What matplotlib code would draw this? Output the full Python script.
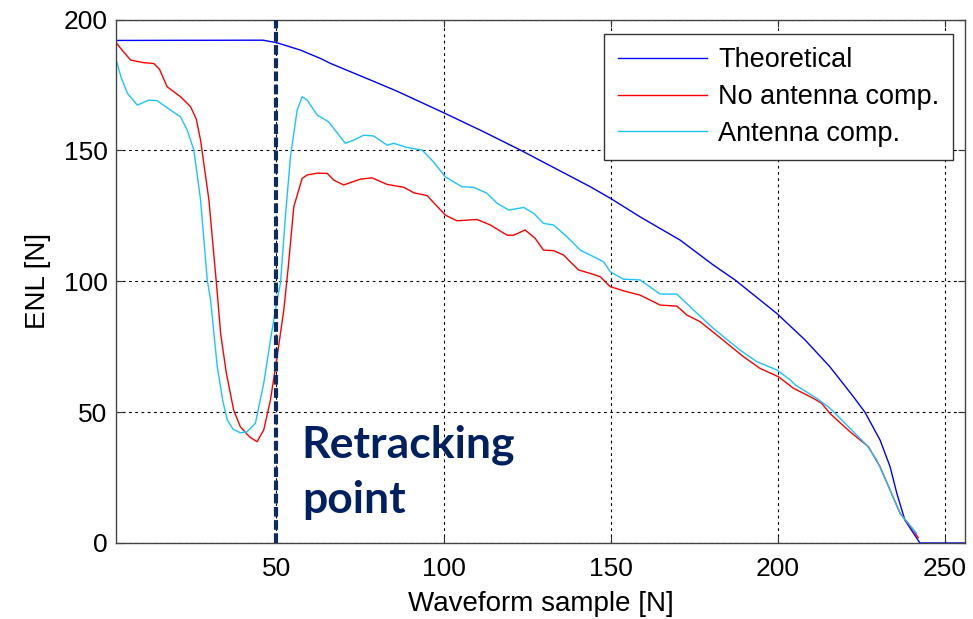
import numpy as np
import matplotlib
matplotlib.use("Agg")
import matplotlib.pyplot as plt

plt.rcParams['font.family'] = ['Liberation Sans', 'DejaVu Sans']
plt.rcParams['lines.scale_dashes'] = False

# theoretical ENL
theo_x = [2, 46, 50.2, 57.2, 63.2, 66.2, 78.1, 86.1, 100.5, 112, 123, 143.9, 149.9,
          158.8, 170.8, 180.7, 187.2, 199.7, 208.2, 215.6, 222.6, 226.1, 230.6,
          233.6, 235.6, 238, 242.5, 256]
theo_y = [192, 192.1, 191.1, 188.3, 185.1, 183.2, 176.9, 172.6, 164.1, 157.1, 150.1,
          136.1, 131.7, 124.6, 115.7, 106.2, 100.5, 87.7, 77.5, 67.3, 55.9, 49.9,
          39.3, 29.1, 19, 8.8, 0, 0]

# no antenna compensation
noant_x = [2.2, 4, 6.4, 10.3, 13.3, 15, 17.3, 21.3, 24.3, 26, 27.3, 29.8, 32.3, 33.3,
           35, 37.2, 39.2, 42, 44.2, 46.2, 48.2, 50.2, 52.2, 53.5, 55.2, 57.7, 59.2,
           62.2, 65.2, 67.1, 70.1, 75.1, 78.6, 83.1, 88.1, 91.1, 95.1, 100.5, 104,
           110, 114, 119, 121, 124.4, 127.4, 129.9, 132.9, 135.9, 140.4, 143.9,
           146.9, 149.9, 154.8, 158.8, 164.8, 169.8, 172.8, 176.8, 181.7, 189.7,
           194.7, 200.2, 204.7, 210.6, 213.1, 215.6, 221.6, 227.1, 230.6, 233.6,
           236.6, 240.5, 242]
noant_y = [190.9, 188, 184.5, 183.5, 183.2, 181, 174.3, 170.5, 166.7, 162, 153.9, 131,
           95.5, 80, 65, 50.8, 44.4, 40.5, 38.7, 43.2, 54.6, 71.2, 89, 105, 128.5,
           139.3, 140.6, 141.3, 141.2, 138.7, 136.8, 139, 139.5, 137, 135.9, 133.8,
           132.7, 125.3, 123.1, 123.6, 121.5, 117.6, 117.6, 119.6, 116.4, 111.9,
           111.7, 110, 104.3, 103, 101.7, 97.9, 96, 94.7, 90.9, 90.5, 87.1, 84.5,
           79.5, 71.2, 66.7, 63.5, 59.1, 55.3, 53.4, 49.5, 42.5, 36.8, 29.1, 20.2,
           11.3, 5, 2]

# antenna compensation
ant_x = [2.2, 3.5, 5.4, 8.4, 11.8, 14.3, 18.3, 21.3, 23.3, 25.3, 27.3, 29.3, 30.3,
         32.3, 34, 35.3, 37, 39.2, 41.2, 43.7, 46.2, 48.2, 50.2, 51.2, 52.7, 54.2,
         56.2, 57.7, 59.2, 62.2, 65.6, 70.6, 73.1, 76.1, 79.1, 83.1, 85.1, 89.1,
         93.6, 97, 100.5, 105.5, 109, 113, 116, 119.5, 124, 127, 129.9, 132.9,
         136.9, 140.9, 143.9, 147.9, 149.9, 153.8, 158.8, 164.8, 169.8, 174.8,
         180.7, 188.7, 193.7, 199.7, 203.7, 205.2, 211.6, 215.6, 220.6, 226.6,
         229.6, 233.6, 236.6, 241.5]
ant_y = [183.9, 178, 171.8, 167.3, 169.2, 169, 165.4, 162.8, 157.8, 150.1, 131, 100.5,
         92.8, 67.3, 54, 47, 43.5, 42.1, 42.5, 45.7, 61, 77.5, 92.8, 99.2, 125,
         147.6, 165.4, 170.5, 169.2, 163.5, 160.9, 152.7, 153.9, 155.8, 155.5, 152,
         152.7, 151.1, 150.1, 145.6, 139.9, 136.1, 135.9, 133.6, 129.8, 127.2,
         128.2, 125.9, 122.1, 121.5, 117, 111.9, 110, 107.4, 103.6, 100.8, 100.5,
         95.1, 95.1, 89, 82, 73.7, 69.3, 66.1, 62.3, 60.4, 55.3, 51.5, 45.1, 37.4,
         31.7, 20.2, 11.3, 3.7]

retrack_x = 50

fig = plt.figure(figsize=(9.73, 6.19), dpi=100)
ax = fig.add_axes([116 / 973, 1 - 543 / 619, (965 - 116) / 973, (543 - 19.5) / 619])

ax.plot(theo_x, theo_y, color='#0000ff', lw=1.0, label='Theoretical')
ax.plot(noant_x, noant_y, color='#ff0000', lw=1.0, label='No antenna comp.')
ax.plot(ant_x, ant_y, color='#1cc4ff', lw=1.0, label='Antenna comp.')

# retracking marker + annotation
ax.axvline(retrack_x, color='#0f2a5c', lw=3.0, dashes=(7, 2.5), zorder=4)
lbl_font = dict(fontsize=32, fontweight='bold', color='#002060',
                family=['Lato', 'DejaVu Sans'], va='baseline', ha='left')
ax.text(57.6, 32.5, 'Retracking', **lbl_font)
ax.text(57.6, 11.5, 'point', **lbl_font)

ax.set_xlim(2, 256)
ax.set_ylim(0, 200)
ax.set_xticks([50, 100, 150, 200, 250])
ax.set_yticks([0, 50, 100, 150, 200])
ax.grid(True, color='black', lw=0.8, linestyle=(0, (2, 2.5)))
ax.tick_params(direction='in', top=True, right=True, length=5, labelsize=19,
               color='#333333')
ax.tick_params(axis='x', pad=10)
ax.tick_params(axis='y', pad=6)
for s in ax.spines.values():
    s.set_color('#444444')
    s.set_linewidth(1.0)

ax.set_xlabel('Waveform sample [N]', fontsize=20, labelpad=7.5)
ax.set_ylabel('ENL [N]', fontsize=20, labelpad=9)

leg = ax.legend(loc='upper right', bbox_to_anchor=(953 / 973, 1 - 33.7 / 619),
                bbox_transform=fig.transFigure, fontsize=19.5, fancybox=False,
                edgecolor='#333333', framealpha=1, handlelength=3.3,
                handletextpad=0.4, labelspacing=0.4, borderaxespad=0,
                borderpad=0.5)
leg.get_frame().set_linewidth(1.0)

fig.savefig('out.png', dpi=100)
